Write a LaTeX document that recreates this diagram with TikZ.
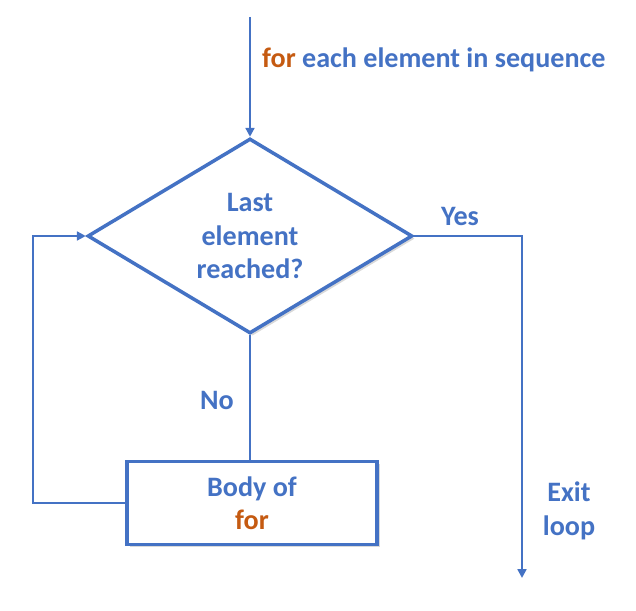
\documentclass[tikz,border=0pt]{standalone}
\usepackage{fontspec}
\setmainfont{Carlito}
\usetikzlibrary{arrows.meta,positioning,shapes.geometric,shadows}

\definecolor{flowblue}{HTML}{4472C4}
\definecolor{kworange}{HTML}{C55A11}

\tikzset{
  txt/.style={text=flowblue,font=\fontsize{16}{19}\selectfont\bfseries,align=center},
  flow/.style={draw=flowblue,line width=1.3pt},
  shade/.style={drop shadow={shadow xshift=1.5pt,shadow yshift=-1.5pt,opacity=.3,fill=gray}}
}

\newcommand{\kw}[1]{\textcolor{kworange}{#1}}

\begin{document}
\begin{tikzpicture}[x=0.02cm,y=-0.02cm,>={Triangle[length=5pt,width=5pt]}]
\useasboundingbox (0,0) rectangle (636,611);

% Point d'entree
\coordinate (entry) at (250,17);

% Losange de test
\node[
draw=flowblue,
line width=2pt,
fill=white,
shade,
diamond,
aspect=1.667,
minimum width=6.5cm,
minimum height=3.9cm,
inner sep=0pt,
txt
] (test) at (250,236) {Last\\ element\\ reached?};

% Boite du corps
\node[
draw=flowblue,
line width=2pt,
fill=white,
shade,
rectangle,
minimum width=5cm,
minimum height=1.66cm,
txt
] (body) at (252,503) {Body of\\ \kw{for}};

% Textes
\node[txt,anchor=west] (seq) at (256,60) {\kw{for} each element in sequence};
\node[txt] (yes) at (460,216) {Yes};
\node[txt] (no) at (217,400) {No};
\node[txt] (exit) at (569,511) {Exit\\ loop};

% Coins des fleches
\coordinate (yesturn) at (522,236);
\coordinate (exitend) at (522,578);
\coordinate (backlow) at (33,503);
\coordinate (backtop) at (33,236);

% Fleches
\draw[flow,->] (entry) -- (test.north);
\draw[flow] (test.south) -- (test.south |- body.north);
\draw[flow,->] (test.east) -- (yesturn) -- (exitend);
\draw[flow,->] (body.west) -- (backlow) -- (backtop) -- (test.west);

\end{tikzpicture}
\end{document}
